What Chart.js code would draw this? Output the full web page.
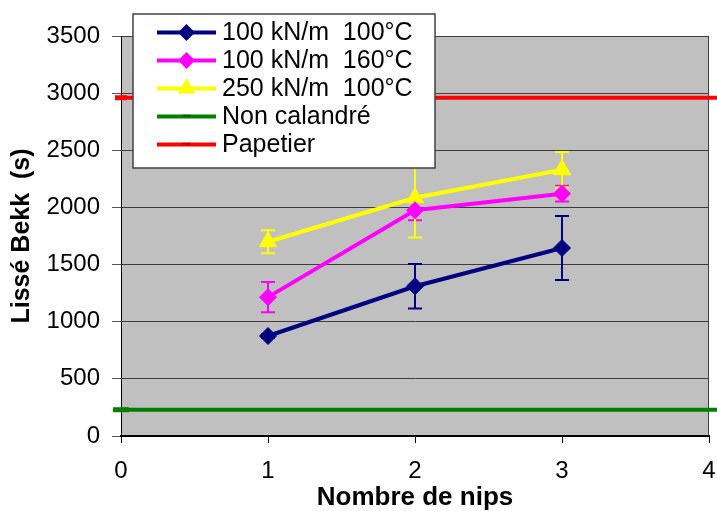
<!DOCTYPE html>
<html><head><meta charset="utf-8">
<script src="https://cdn.jsdelivr.net/npm/chart.js@4.4.0/dist/chart.umd.min.js"></script>
<style>html,body{margin:0;padding:0;background:#fff;}#wrap{width:717px;height:511px;}</style>
</head><body><div id="wrap"><canvas id="c" width="717" height="511"></canvas></div>
<script>
// ---- data ----
const nips = [1, 2, 3];
const lisse100kN100C = [875, 1310, 1645];
const err100kN100C = [15, 195, 280];
const lisse100kN160C = [1215, 1975, 2120];
const err100kN160C = [133, 88, 69];
const lisse250kN100C = [1700, 2085, 2330];
const err250kN100C = [100, 348, 155];
const nonCalandre = 230;
const papetier = 2960;
const refLineX = [0, 4.2];
const xTicks = [0, 1, 2, 3, 4];
const yTicks = [0, 500, 1000, 1500, 2000, 2500, 3000, 3500];
const seriesLabels = ['100 kN/m  100°C', '100 kN/m  160°C', '250 kN/m  100°C', 'Non calandré', 'Papetier'];
const seriesColors = ['#000080', '#FF00FF', '#FFFF00', '#008000', '#FF0000'];

const FONT = '"Liberation Sans", Arial, sans-serif';
const pts = (xs, ys) => xs.map((x, i) => ({x: x, y: ys[i]}));
const errSets = [err100kN100C, err100kN160C, err250kN100C];

const errorBarPlugin = {
  id: 'errbars',
  beforeDatasetsDraw(chart) {
    const ctx = chart.ctx, xs = chart.scales.x, ys = chart.scales.y;
    ctx.save();
    errSets.forEach((errs, di) => {
      const ds = chart.data.datasets[di];
      ctx.strokeStyle = ds.borderColor;
      ctx.lineWidth = 2;
      ds.data.forEach((p, i) => {
        const px = xs.getPixelForValue(p.x);
        const top = ys.getPixelForValue(p.y + errs[i]);
        const bot = ys.getPixelForValue(p.y - errs[i]);
        ctx.beginPath();
        ctx.moveTo(px, top); ctx.lineTo(px, bot);
        ctx.moveTo(px - 7, top); ctx.lineTo(px + 7, top);
        ctx.moveTo(px - 7, bot); ctx.lineTo(px + 7, bot);
        ctx.stroke();
      });
    });
    ctx.restore();
  }
};

const bgPlugin = {
  id: 'plotbg',
  beforeDraw(chart) {
    const {ctx, chartArea: a} = chart;
    ctx.save();
    ctx.fillStyle = '#C0C0C0';
    ctx.fillRect(a.left, a.top, a.right - a.left, a.bottom - a.top);
    ctx.restore();
  },
  beforeDatasetsDraw(chart) {
    const {ctx, chartArea: a} = chart;
    ctx.save();
    ctx.strokeStyle = '#404040';
    ctx.lineWidth = 1;
    ctx.beginPath();
    ctx.moveTo(a.right - 0.5, a.top); ctx.lineTo(a.right - 0.5, a.bottom);
    ctx.stroke();
    ctx.restore();
  }
};

function drawMarker(ctx, style, x, y, color) {
  ctx.fillStyle = color; ctx.strokeStyle = color;
  ctx.beginPath();
  if (style === 'rectRot') {
    const r = 8.5;
    ctx.moveTo(x, y - r); ctx.lineTo(x + r, y); ctx.lineTo(x, y + r); ctx.lineTo(x - r, y); ctx.closePath();
    ctx.fill();
  } else if (style === 'triangle') {
    const r = 10;
    ctx.moveTo(x, y - r);
    ctx.lineTo(x + r * Math.sin(2 * Math.PI / 3), y + r / 2);
    ctx.lineTo(x - r * Math.sin(2 * Math.PI / 3), y + r / 2);
    ctx.closePath(); ctx.fill();
  } else if (style === 'line') {
    ctx.lineWidth = 2;
    ctx.strokeStyle = 'rgba(0,0,0,0.35)';
    ctx.moveTo(x - 4, y - 1); ctx.lineTo(x + 4, y - 1);
    ctx.stroke();
  }
}

const legendPlugin = {
  id: 'floatLegend',
  afterDraw(chart) {
    const ctx = chart.ctx;
    const bx = 133, by = 14, bw = 302, bh = 154;
    ctx.save();
    ctx.fillStyle = '#FFFFFF';
    ctx.fillRect(bx, by, bw, bh);
    ctx.strokeStyle = '#404040';
    ctx.lineWidth = 1.5;
    ctx.strokeRect(bx, by, bw, bh);
    chart.data.datasets.forEach((ds, i) => {
      const cy = 32.5 + i * 28;
      ctx.strokeStyle = ds.borderColor;
      ctx.lineWidth = 4;
      ctx.beginPath(); ctx.moveTo(157, cy); ctx.lineTo(216, cy); ctx.stroke();
      drawMarker(ctx, ds.pointStyle, 186.5, cy, ds.borderColor);
      ctx.fillStyle = '#000';
      ctx.font = '25px ' + FONT;
      ctx.textBaseline = 'middle';
      ctx.textAlign = 'left';
      ctx.fillText(ds.label, 222, cy + 1);
    });
    ctx.restore();
  }
};

const mkSeries = (i, data, style, radius) => ({
  label: seriesLabels[i], data: data, borderColor: seriesColors[i], backgroundColor: seriesColors[i],
  borderWidth: 4, pointStyle: style, pointRadius: radius, pointHoverRadius: radius,
  pointBorderWidth: 1, pointBackgroundColor: seriesColors[i], pointBorderColor: seriesColors[i],
  showLine: true, tension: 0
});

new Chart(document.getElementById('c'), {
  type: 'scatter',
  data: {
    datasets: [
      mkSeries(0, pts(nips, lisse100kN100C), 'rectRot', 8.5),
      mkSeries(1, pts(nips, lisse100kN160C), 'rectRot', 8.5),
      mkSeries(2, pts(nips, lisse250kN100C), 'triangle', 10),
      Object.assign(mkSeries(3, pts(refLineX, [nonCalandre, nonCalandre]), 'line', [8, 0]), {clip: false, pointBorderWidth: 5}),
      Object.assign(mkSeries(4, pts(refLineX, [papetier, papetier]), 'line', [6, 0]), {clip: false, pointBorderWidth: 5})
    ]
  },
  options: {
    responsive: false,
    devicePixelRatio: 1,
    animation: false,
    events: [],
    layout: {autoPadding: false, padding: {top: 36, right: 8, left: 0, bottom: 0}},
    plugins: {legend: {display: false}, tooltip: {enabled: false}},
    scales: {
      x: {
        type: 'linear', min: 0, max: 4,
        afterBuildTicks: s => { s.ticks = xTicks.map(v => ({value: v})); },
        afterFit: s => { s.height = 75; s.paddingLeft = 0; s.paddingRight = 0; },
        grid: {drawOnChartArea: false, color: '#000', tickColor: '#000', tickLength: 7, tickWidth: 1},
        border: {color: '#000', width: 2},
        ticks: {font: {family: FONT, size: 24}, color: '#000', padding: 14, maxRotation: 0,
          callback: v => String(v)},
        title: {display: true, text: 'Nombre de nips', color: '#000',
          font: {family: FONT, size: 26, weight: 'bold', lineHeight: 1}, padding: {top: 0, bottom: 0}}
      },
      y: {
        type: 'linear', min: 0, max: 3500,
        afterBuildTicks: s => { s.ticks = yTicks.map(v => ({value: v})); },
        afterFit: s => { s.width = 121; s.paddingTop = 0; s.paddingBottom = 0; },
        grid: {color: '#3c3c3c', lineWidth: 1, tickColor: '#555', tickLength: 9, tickWidth: 1},
        border: {color: '#000', width: 1},
        ticks: {font: {family: FONT, size: 24}, color: '#000', padding: 12,
          callback: v => String(v)},
        title: {display: true, text: 'Lissé Bekk  (s)', color: '#000',
          font: {family: FONT, size: 25, weight: 'bold', lineHeight: 1}, padding: {top: 10, bottom: 0}}
      }
    }
  },
  plugins: [bgPlugin, errorBarPlugin, legendPlugin]
});
</script>
</body></html>
